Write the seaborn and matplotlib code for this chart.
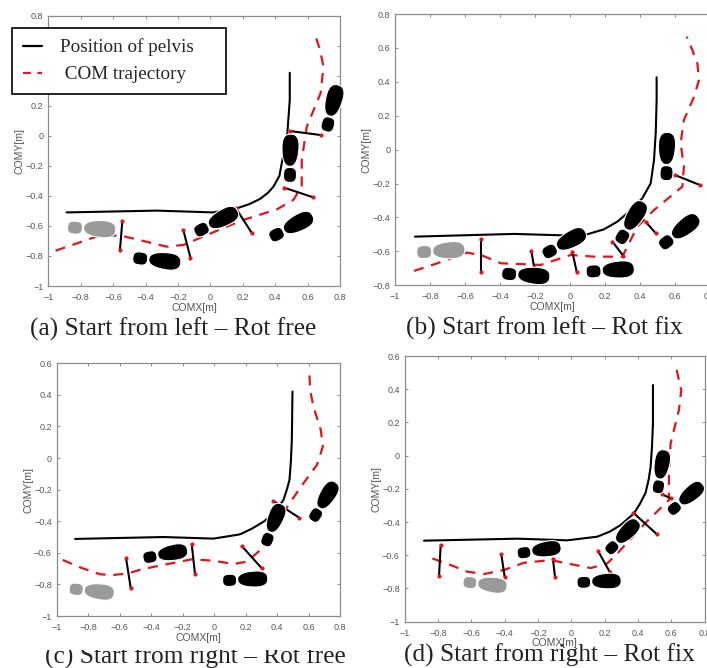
import matplotlib.pyplot as plt
import numpy as np
import pandas as pd
import seaborn as sns
from matplotlib.lines import Line2D
from matplotlib.patches import Polygon
from matplotlib.transforms import Affine2D, Bbox

W, H = 707, 668
GRAY = "#8c8c8c"
TXT = "#555555"
RED = "#e0141c"

# panel a
a_pelvis_x = [-0.887, -0.33, 0.018, 0.163, 0.24, 0.307, 0.355, 0.389, 0.426, 0.475, 0.49, 0.49]
a_pelvis_y = [-0.51, -0.498, -0.51, -0.483, -0.455, -0.42, -0.38, -0.339, -0.267, 0.017, 0.239, 0.42]
a_com_x = [-0.955, -0.70, -0.558, -0.414, -0.27, -0.167, -0.064, 0.10, 0.204, 0.41, 0.512, 0.564, 0.564, 0.595, 0.68, 0.698, 0.677, 0.642]
a_com_y = [-0.765, -0.67, -0.663, -0.70, -0.738, -0.727, -0.68, -0.605, -0.56, -0.49, -0.427, -0.338, -0.161, 0.061, 0.283, 0.46, 0.571, 0.687]
a_step_x = [[-0.543, -0.558], [-0.167, -0.123], [0.158, 0.257], [0.455, 0.636], [0.492, 0.683]]
a_step_y = [[-0.567, -0.76], [-0.627, -0.811], [-0.483, -0.649], [-0.345, -0.41], [0.032, 0.005]]
a_foot_x = [-0.733, -0.331, 0.035, 0.498, 0.492, 0.749]
a_foot_y = [-0.616, -0.827, -0.572, -0.605, -0.15, 0.183]
a_foot_ang = [-4, -7, 27, 27, 88, 75]

# panel b
b_pelvis_x = [-0.886, -0.32, -0.053, 0.099, 0.194, 0.27, 0.35, 0.413, 0.461, 0.48, 0.49, 0.495, 0.495]
b_pelvis_y = [-0.513, -0.497, -0.505, -0.499, -0.47, -0.425, -0.355, -0.287, -0.199, -0.061, 0.1, 0.293, 0.427]
b_com_x = [-0.891, -0.758, -0.587, -0.501, -0.396, -0.168, 0.004, 0.137, 0.299, 0.385, 0.48, 0.642, 0.651, 0.632, 0.651, 0.709, 0.737, 0.728, 0.699, 0.667]
b_com_y = [-0.715, -0.67, -0.607, -0.625, -0.67, -0.68, -0.621, -0.631, -0.631, -0.454, -0.356, -0.218, -0.1, 0.037, 0.175, 0.312, 0.411, 0.509, 0.588, 0.666]
b_step_x = [[-0.507, -0.507], [-0.221, -0.206], [0.013, 0.038], [0.242, 0.305], [0.432, 0.49], [0.598, 0.741]]
b_step_y = [[-0.529, -0.719], [-0.596, -0.69], [-0.601, -0.719], [-0.542, -0.627], [-0.425, -0.493], [-0.149, -0.208]]
b_foot_x = [-0.739, -0.253, -0.034, 0.229, 0.347, 0.623, 0.552]
b_foot_y = [-0.596, -0.739, -0.552, -0.71, -0.43, -0.484, -0.041]
b_foot_ang = [3, -5, 28, 3, 58, 38, 88]

# panel c
c_pelvis_x = [-0.883, -0.322, -0.004, 0.165, 0.24, 0.314, 0.38, 0.441, 0.462, 0.479, 0.488, 0.494, 0.498]
c_pelvis_y = [-0.512, -0.5, -0.51, -0.483, -0.447, -0.403, -0.35, -0.265, -0.2, -0.139, -0.02, 0.115, 0.421]
c_com_x = [-0.962, -0.852, -0.725, -0.64, -0.544, -0.46, -0.142, -0.004, 0.123, 0.208, 0.282, 0.38, 0.472, 0.56, 0.653, 0.691, 0.678, 0.631, 0.61, 0.606]
c_com_y = [-0.645, -0.692, -0.736, -0.74, -0.73, -0.704, -0.641, -0.65, -0.671, -0.656, -0.593, -0.45, -0.297, -0.17, -0.044, 0.072, 0.178, 0.326, 0.431, 0.526]
c_step_x = [[-0.559, -0.53], [-0.142, -0.121], [0.176, 0.303], [0.377, 0.54]]
c_step_y = [[-0.635, -0.821], [-0.546, -0.736], [-0.557, -0.698], [-0.272, -0.377]]
c_foot_x = [-0.778, -0.311, 0.197, 0.373, 0.695]
c_foot_y = [-0.84, -0.607, -0.768, -0.424, -0.276]
c_foot_ang = [-7, 10, 2, 68, 58]

# panel d
d_pelvis_x = [-0.884, -0.324, -0.024, 0.156, 0.23, 0.296, 0.376, 0.412, 0.446, 0.465, 0.476, 0.484, 0.49, 0.49]
d_pelvis_y = [-0.512, -0.5, -0.51, -0.488, -0.458, -0.418, -0.348, -0.29, -0.223, -0.14, -0.067, 0.05, 0.194, 0.425]
d_com_x = [-0.834, -0.724, -0.624, -0.524, -0.404, -0.284, -0.124, -0.004, 0.116, 0.216, 0.276, 0.446, 0.586, 0.586, 0.596, 0.646, 0.66, 0.63]
d_com_y = [-0.619, -0.659, -0.699, -0.713, -0.689, -0.645, -0.629, -0.653, -0.677, -0.649, -0.589, -0.404, -0.267, -0.107, 0.074, 0.275, 0.395, 0.526]
d_step_x = [[-0.784, -0.794], [-0.42, -0.4], [-0.11, -0.098], [0.16, 0.23], [0.372, 0.512], [0.546, 0.596]]
d_step_y = [[-0.539, -0.725], [-0.595, -0.729], [-0.625, -0.729], [-0.573, -0.699], [-0.344, -0.472], [-0.233, -0.257]]
d_foot_x = [-0.518, -0.194, 0.166, 0.306, 0.536, 0.686]
d_foot_y = [-0.773, -0.569, -0.757, -0.488, -0.097, -0.257]
d_foot_ang = [-7, 8, 2, 45, 80, 40]

x_ticks = [-1, -0.8, -0.6, -0.4, -0.2, 0, 0.2, 0.4, 0.6, 0.8]
y_ticks_long = [-1, -0.8, -0.6, -0.4, -0.2, 0, 0.2, 0.4, 0.6, 0.8]
y_ticks_b = [-0.8, -0.6, -0.4, -0.2, 0, 0.2, 0.4, 0.6, 0.8]
y_ticks_short = [-1, -0.8, -0.6, -0.4, -0.2, 0, 0.2, 0.4, 0.6]

captions = ["(a) Start from left – Rot free", "(b) Start from left – Rot fix",
            "(c) Start from right – Rot free", "(d) Start from right – Rot fix"]

sns.set_theme(style="ticks")
plt.rcParams["font.family"] = ["Liberation Sans", "DejaVu Sans"]
fig = plt.figure(figsize=(W / 100, H / 100), dpi=100)


def px_axes(left, top, right, bottom):
    return fig.add_axes([left / W, 1 - bottom / H, (right - left) / W, (bottom - top) / H])


def sole(cx, cy, w, h, n=3.0, taper=0.0):
    t = np.linspace(0, 2 * np.pi, 80)
    u = np.sign(np.cos(t)) * np.abs(np.cos(t)) ** (2 / n)
    v = np.sign(np.sin(t)) * np.abs(np.sin(t)) ** (2 / n)
    return np.column_stack([cx + w / 2 * u, cy + h / 2 * v * (1 + taper * u)])


def draw_foot(ax, x, y, ang, length, color):
    """Foot in pixel units, placed on a data point."""
    center = ax.transData.transform((x, y))
    tr = Affine2D().rotate_deg(ang).translate(*center)
    front = sole(0.17 * length, 0, 0.67 * length, 0.35 * length, n=2.5, taper=0.12)
    heel = sole(-0.345 * length, -0.01 * length, 0.31 * length, 0.27 * length, n=2.8)
    for part in (front, heel):
        ax.add_patch(Polygon(part, closed=True, facecolor=color, edgecolor="white",
                             linewidth=0.8, transform=tr, zorder=4, clip_on=False))


def draw_panel(ax, xlim, ylim, yticks, pelvis, com, steps, feet, foot_len):
    ax.set_xlim(*xlim)
    ax.set_ylim(*ylim)
    sns.lineplot(x=pelvis[0], y=pelvis[1], color="black", linewidth=1.5, sort=False,
                 estimator=None, ax=ax, zorder=2)
    sns.lineplot(x=com[0], y=com[1], color=RED, linewidth=1.6, sort=False, estimator=None,
                 linestyle=(0, (4.5, 3.5)), ax=ax, zorder=2)
    for sx, sy in zip(*steps):
        sns.lineplot(x=sx, y=sy, color="black", linewidth=1.5, sort=False, estimator=None,
                     ax=ax, zorder=3)
        sns.scatterplot(x=sx, y=sy, color=RED, s=9, linewidth=0, ax=ax, zorder=3.5)
    for i, (fx, fy, fa) in enumerate(zip(*feet)):
        draw_foot(ax, fx, fy, fa, foot_len, "#9a9a9a" if i == 0 else "black")
    ax.set_xticks(x_ticks)
    ax.set_yticks(yticks)
    ax.set_xticklabels([f"{v:g}".replace("-", "\u2212") for v in x_ticks])
    ax.set_yticklabels([f"{v:g}".replace("-", "\u2212") for v in yticks])
    ax.tick_params(direction="in", top=True, right=True, length=2, width=0.7, color=GRAY,
                   labelsize=6.5, labelcolor=TXT)
    ax.tick_params(axis="x", pad=5)
    ax.tick_params(axis="y", pad=3.5)
    for s in ax.spines.values():
        s.set_color(GRAY)
        s.set_linewidth(0.9)
    ax.set_xlabel("COMX[m]", fontsize=7.5, color=TXT, labelpad=0.5)
    ax.set_ylabel("COMY[m]", fontsize=7.5, color=TXT, labelpad=0.5)


ax_a = px_axes(48.3, 15.7, 340, 286)
ax_b = px_axes(395, 14, 710, 285.3)
ax_c = px_axes(56.7, 363.3, 340, 616)
ax_d = px_axes(404.7, 356, 704.6, 621.7)

draw_panel(ax_a, (-1, 0.8), (-1, 0.8), y_ticks_long, (a_pelvis_x, a_pelvis_y), (a_com_x, a_com_y),
           (a_step_x, a_step_y), (a_foot_x, a_foot_y, a_foot_ang), 48)
draw_panel(ax_b, (-1, 0.8), (-0.8, 0.8), y_ticks_b, (b_pelvis_x, b_pelvis_y), (b_com_x, b_com_y),
           (b_step_x, b_step_y), (b_foot_x, b_foot_y, b_foot_ang), 48)
draw_panel(ax_c, (-1, 0.8), (-1, 0.6), y_ticks_short, (c_pelvis_x, c_pelvis_y), (c_com_x, c_com_y),
           (c_step_x, c_step_y), (c_foot_x, c_foot_y, c_foot_ang), 45)
draw_panel(ax_d, (-1, 0.8), (-1, 0.6), y_ticks_short, (d_pelvis_x, d_pelvis_y), (d_com_x, d_com_y),
           (d_step_x, d_step_y), (d_foot_x, d_foot_y, d_foot_ang), 44)

handles = [Line2D([], [], color="black", linewidth=1.6),
           Line2D([], [], color=RED, linewidth=1.6, linestyle=(0, (3.5, 3)))]
leg = ax_a.legend(handles, ["Position of pelvis", " COM trajectory"], loc="upper left",
                  bbox_to_anchor=(12 / W, 1 - 93 / H, 214 / W, 65 / H), bbox_transform=fig.transFigure,
                  mode="expand", borderaxespad=0, borderpad=0.55, handlelength=1.0, handletextpad=0.95,
                  labelspacing=0.5, fancybox=False, framealpha=1, edgecolor="black",
                  prop={"family": "Liberation Serif", "size": 13.8})
leg.get_frame().set_linewidth(1.2)
leg.set_zorder(10)

cap_pos = [(173, 329), (544, 328), (195, 657), (549, 655)]
for txt, (cx, cy) in zip(captions, cap_pos):
    t = fig.text(cx / W, 1 - cy / H, txt, ha="center", va="center", color="#222222",
                 family="Liberation Serif", fontsize=18.3)
    if txt.startswith("(c)"):
        # top of this caption is cut off in the source image
        t.set_clip_box(Bbox([[0, 0], [W, H - 650]]))
        t.set_clip_on(True)

fig.savefig("out.png", dpi=100)
